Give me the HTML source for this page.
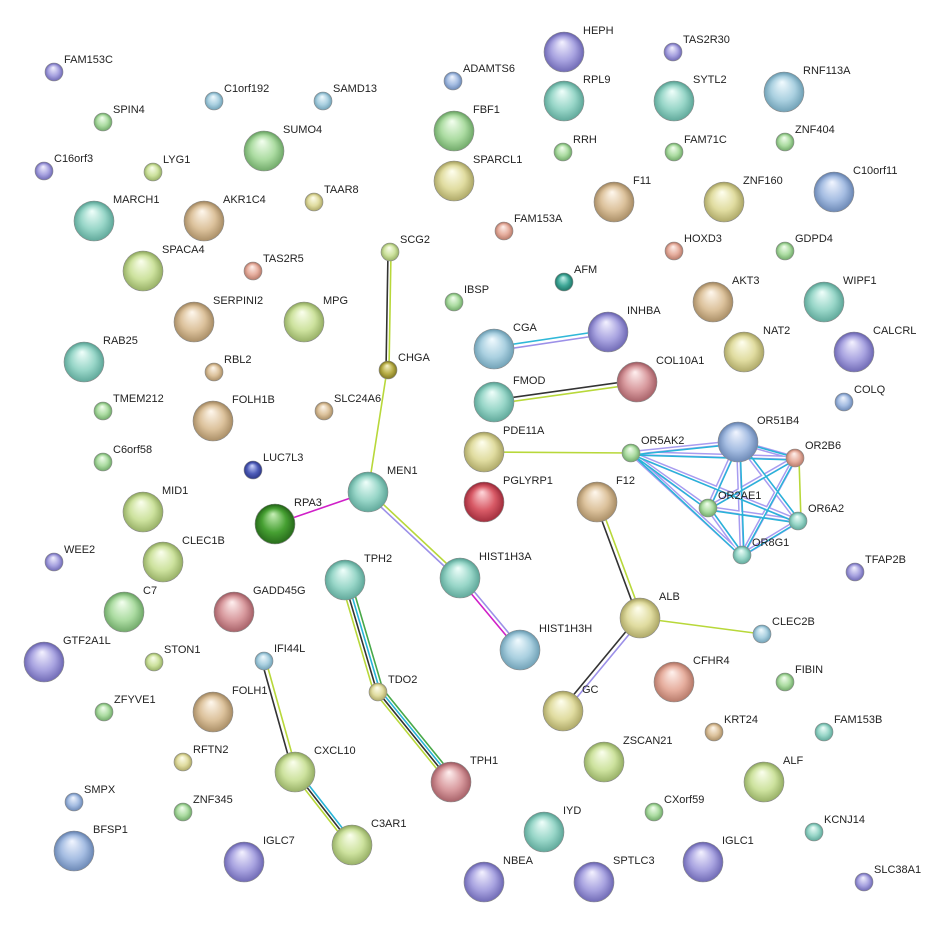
<!DOCTYPE html>
<html><head><meta charset="utf-8"><style>
html,body{margin:0;padding:0;background:#fff;}
svg{display:block}
text{font-family:"Liberation Sans",Arial,sans-serif;font-size:11px;fill:#222;}
</style></head><body>
<svg width="935" height="927" viewBox="0 0 935 927" xmlns="http://www.w3.org/2000/svg">
<defs>
<radialGradient id="pu" cx="50%" cy="55%" r="55%" fx="45%" fy="25%"><stop offset="0" stop-color="#f4f2ff"/><stop offset="0.55" stop-color="#a8a3e0"/><stop offset="1" stop-color="#5e58a8"/></radialGradient>
<radialGradient id="bl" cx="50%" cy="55%" r="55%" fx="45%" fy="25%"><stop offset="0" stop-color="#f2f6ff"/><stop offset="0.55" stop-color="#a5bde2"/><stop offset="1" stop-color="#5a78a8"/></radialGradient>
<radialGradient id="lb" cx="50%" cy="55%" r="55%" fx="45%" fy="25%"><stop offset="0" stop-color="#f2fbff"/><stop offset="0.55" stop-color="#aad0e0"/><stop offset="1" stop-color="#5f93aa"/></radialGradient>
<radialGradient id="te" cx="50%" cy="55%" r="55%" fx="45%" fy="25%"><stop offset="0" stop-color="#f0fffb"/><stop offset="0.55" stop-color="#98d6c8"/><stop offset="1" stop-color="#4e9a8c"/></radialGradient>
<radialGradient id="gr" cx="50%" cy="55%" r="55%" fx="45%" fy="25%"><stop offset="0" stop-color="#f4fff0"/><stop offset="0.55" stop-color="#acdca2"/><stop offset="1" stop-color="#5e9a58"/></radialGradient>
<radialGradient id="yg" cx="50%" cy="55%" r="55%" fx="45%" fy="25%"><stop offset="0" stop-color="#fbffee"/><stop offset="0.55" stop-color="#cde29e"/><stop offset="1" stop-color="#86a054"/></radialGradient>
<radialGradient id="ye" cx="50%" cy="55%" r="55%" fx="45%" fy="25%"><stop offset="0" stop-color="#ffffef"/><stop offset="0.55" stop-color="#e0dca0"/><stop offset="1" stop-color="#9e9856"/></radialGradient>
<radialGradient id="ta" cx="50%" cy="55%" r="55%" fx="45%" fy="25%"><stop offset="0" stop-color="#fff8ee"/><stop offset="0.55" stop-color="#dcc29c"/><stop offset="1" stop-color="#9a7e56"/></radialGradient>
<radialGradient id="sa" cx="50%" cy="55%" r="55%" fx="45%" fy="25%"><stop offset="0" stop-color="#fff2ee"/><stop offset="0.55" stop-color="#e6ae9e"/><stop offset="1" stop-color="#a86a5a"/></radialGradient>
<radialGradient id="re" cx="50%" cy="55%" r="55%" fx="45%" fy="25%"><stop offset="0" stop-color="#ffd8dc"/><stop offset="0.55" stop-color="#d85a66"/><stop offset="1" stop-color="#902030"/></radialGradient>
<radialGradient id="cr" cx="50%" cy="55%" r="55%" fx="45%" fy="25%"><stop offset="0" stop-color="#fff0f0"/><stop offset="0.55" stop-color="#d89a9e"/><stop offset="1" stop-color="#985058"/></radialGradient>
<radialGradient id="dg" cx="50%" cy="55%" r="55%" fx="45%" fy="25%"><stop offset="0" stop-color="#c8f0b8"/><stop offset="0.55" stop-color="#46a032"/><stop offset="1" stop-color="#1e5a14"/></radialGradient>
<radialGradient id="db" cx="50%" cy="55%" r="55%" fx="45%" fy="25%"><stop offset="0" stop-color="#d0d8ff"/><stop offset="0.55" stop-color="#4e5cb8"/><stop offset="1" stop-color="#222c78"/></radialGradient>
<radialGradient id="ol" cx="50%" cy="55%" r="55%" fx="45%" fy="25%"><stop offset="0" stop-color="#f8f4c8"/><stop offset="0.55" stop-color="#b8ae48"/><stop offset="1" stop-color="#706818"/></radialGradient>
<radialGradient id="dt" cx="50%" cy="55%" r="55%" fx="45%" fy="25%"><stop offset="0" stop-color="#c8f4ee"/><stop offset="0.55" stop-color="#40a898"/><stop offset="1" stop-color="#166658"/></radialGradient>
</defs>

<g fill="none" stroke-linecap="round">
<!-- SCG2-CHGA -->
<line x1="388" y1="252" x2="386" y2="370" stroke="#333" stroke-width="1.6"/>
<line x1="391" y1="252" x2="389" y2="370" stroke="#b8d83a" stroke-width="1.6"/>
<!-- CHGA-MEN1 -->
<line x1="387" y1="370" x2="368" y2="492" stroke="#b8d83a" stroke-width="1.6"/>
<!-- MEN1-RPA3 -->
<line x1="368" y1="492" x2="275" y2="524" stroke="#d020c8" stroke-width="1.6"/>
<!-- MEN1-HIST1H3A -->
<line x1="369" y1="491" x2="461" y2="577" stroke="#b8d83a" stroke-width="1.6"/>
<line x1="367" y1="494" x2="459" y2="580" stroke="#9c90e8" stroke-width="1.6"/>
<!-- HIST1H3A-HIST1H3H -->
<line x1="462" y1="577" x2="522" y2="649" stroke="#9c90e8" stroke-width="1.6"/>
<line x1="459" y1="579" x2="519" y2="651" stroke="#d020c8" stroke-width="1.6"/>
<!-- CGA-INHBA -->
<line x1="494" y1="347" x2="608" y2="330" stroke="#30b8d8" stroke-width="1.6"/>
<line x1="494" y1="351" x2="608" y2="334" stroke="#9c90e8" stroke-width="1.6"/>
<!-- FMOD-COL10A1 -->
<line x1="494" y1="400" x2="637" y2="380" stroke="#333" stroke-width="1.6"/>
<line x1="494" y1="404" x2="637" y2="384" stroke="#b8d83a" stroke-width="1.6"/>
<!-- PDE11A-OR5AK2 -->
<line x1="484" y1="452" x2="631" y2="453" stroke="#b8d83a" stroke-width="1.6"/>
<!-- OR cluster -->
<g>
<path d="M631 453L738 442M631 453L795 458M631 453L708 508M631 453L798 521M631 453L742 555M738 442L795 458M738 442L708 508M738 442L798 521M738 442L742 555M795 458L708 508M795 458L742 555M708 508L798 521M708 508L742 555M798 521L742 555" stroke="#a89cf0" stroke-width="4.5"/>
<path d="M631 453L738 442M631 453L795 458M631 453L708 508M631 453L798 521M631 453L742 555M738 442L795 458M738 442L708 508M738 442L798 521M738 442L742 555M795 458L708 508M795 458L742 555M708 508L798 521M708 508L742 555M798 521L742 555" stroke="#fff" stroke-width="1.5"/>
<path d="M631 455L738 444M631 455L795 460M633 455L708 510M633 455L798 523M633 455L742 557M740 442L797 458M740 442L710 508M740 442L800 521M740 442L744 555M795 460L708 510M795 460L742 557M708 510L798 523M710 508L744 555M800 521L744 555" stroke="#28b4d8" stroke-width="1.5"/>
</g>
<!-- OR2B6-OR6A2 yellow -->
<line x1="799" y1="459" x2="801" y2="521" stroke="#b8d83a" stroke-width="1.6"/>
<!-- F12-ALB -->
<line x1="595" y1="502" x2="638" y2="618" stroke="#333" stroke-width="1.6"/>
<line x1="599" y1="501" x2="642" y2="617" stroke="#b8d83a" stroke-width="1.6"/>
<!-- ALB-CLEC2B -->
<line x1="640" y1="618" x2="762" y2="634" stroke="#b8d83a" stroke-width="1.6"/>
<!-- ALB-GC -->
<line x1="638" y1="617" x2="561" y2="710" stroke="#333" stroke-width="1.6"/>
<line x1="641" y1="620" x2="564" y2="713" stroke="#9c90e8" stroke-width="1.6"/>
<!-- TPH2-TDO2 -->
<line x1="341" y1="581" x2="374" y2="693" stroke="#b8d83a" stroke-width="1.6"/>
<line x1="344" y1="580" x2="377" y2="692" stroke="#333" stroke-width="1.6"/>
<line x1="347" y1="579" x2="380" y2="691" stroke="#28b4d8" stroke-width="1.6"/>
<line x1="350" y1="578" x2="383" y2="690" stroke="#48a848" stroke-width="1.6"/>
<!-- TDO2-TPH1 -->
<line x1="376" y1="694" x2="449" y2="784" stroke="#b8d83a" stroke-width="1.6"/>
<line x1="378" y1="692" x2="451" y2="782" stroke="#333" stroke-width="1.6"/>
<line x1="380" y1="690" x2="453" y2="780" stroke="#28b4d8" stroke-width="1.6"/>
<line x1="382" y1="688" x2="455" y2="778" stroke="#48a848" stroke-width="1.6"/>
<!-- IFI44L-CXCL10 -->
<line x1="262" y1="662" x2="293" y2="773" stroke="#333" stroke-width="1.6"/>
<line x1="266" y1="661" x2="297" y2="772" stroke="#b8d83a" stroke-width="1.6"/>
<!-- CXCL10-C3AR1 -->
<line x1="293" y1="774" x2="350" y2="847" stroke="#b8d83a" stroke-width="1.6"/>
<line x1="295" y1="772" x2="352" y2="845" stroke="#333" stroke-width="1.6"/>
<line x1="297" y1="770" x2="354" y2="843" stroke="#28b4d8" stroke-width="1.6"/>
</g>

<g stroke="#8a8a8a" stroke-width="0.6">
<!-- big r=20, small r=9 -->
<circle cx="54" cy="72" r="9" fill="url(#pu)"/>
<circle cx="103" cy="122" r="9" fill="url(#gr)"/>
<circle cx="214" cy="101" r="9" fill="url(#lb)"/>
<circle cx="323" cy="101" r="9" fill="url(#lb)"/>
<circle cx="453" cy="81" r="9" fill="url(#bl)"/>
<circle cx="564" cy="52" r="20" fill="url(#pu)"/>
<circle cx="673" cy="52" r="9" fill="url(#pu)"/>
<circle cx="564" cy="101" r="20" fill="url(#te)"/>
<circle cx="674" cy="101" r="20" fill="url(#te)"/>
<circle cx="784" cy="92" r="20" fill="url(#lb)"/>
<circle cx="44" cy="171" r="9" fill="url(#pu)"/>
<circle cx="153" cy="172" r="9" fill="url(#yg)"/>
<circle cx="264" cy="151" r="20" fill="url(#gr)"/>
<circle cx="454" cy="131" r="20" fill="url(#gr)"/>
<circle cx="563" cy="152" r="9" fill="url(#gr)"/>
<circle cx="674" cy="152" r="9" fill="url(#gr)"/>
<circle cx="785" cy="142" r="9" fill="url(#gr)"/>
<circle cx="834" cy="192" r="20" fill="url(#bl)"/>
<circle cx="94" cy="221" r="20" fill="url(#te)"/>
<circle cx="204" cy="221" r="20" fill="url(#ta)"/>
<circle cx="314" cy="202" r="9" fill="url(#ye)"/>
<circle cx="454" cy="181" r="20" fill="url(#ye)"/>
<circle cx="614" cy="202" r="20" fill="url(#ta)"/>
<circle cx="724" cy="202" r="20" fill="url(#ye)"/>
<circle cx="504" cy="231" r="9" fill="url(#sa)"/>
<circle cx="674" cy="251" r="9" fill="url(#sa)"/>
<circle cx="785" cy="251" r="9" fill="url(#gr)"/>
<circle cx="390" cy="252" r="9" fill="url(#yg)"/>
<circle cx="143" cy="271" r="20" fill="url(#yg)"/>
<circle cx="253" cy="271" r="9" fill="url(#sa)"/>
<circle cx="564" cy="282" r="9" fill="url(#dt)"/>
<circle cx="454" cy="302" r="9" fill="url(#gr)"/>
<circle cx="713" cy="302" r="20" fill="url(#ta)"/>
<circle cx="824" cy="302" r="20" fill="url(#te)"/>
<circle cx="194" cy="322" r="20" fill="url(#ta)"/>
<circle cx="304" cy="322" r="20" fill="url(#yg)"/>
<circle cx="608" cy="332" r="20" fill="url(#pu)"/>
<circle cx="494" cy="349" r="20" fill="url(#lb)"/>
<circle cx="744" cy="352" r="20" fill="url(#ye)"/>
<circle cx="854" cy="352" r="20" fill="url(#pu)"/>
<circle cx="84" cy="362" r="20" fill="url(#te)"/>
<circle cx="214" cy="372" r="9" fill="url(#ta)"/>
<circle cx="388" cy="370" r="9" fill="url(#ol)"/>
<circle cx="637" cy="382" r="20" fill="url(#cr)"/>
<circle cx="494" cy="402" r="20" fill="url(#te)"/>
<circle cx="844" cy="402" r="9" fill="url(#bl)"/>
<circle cx="103" cy="411" r="9" fill="url(#gr)"/>
<circle cx="213" cy="421" r="20" fill="url(#ta)"/>
<circle cx="324" cy="411" r="9" fill="url(#ta)"/>
<circle cx="484" cy="452" r="20" fill="url(#ye)"/>
<circle cx="631" cy="453" r="9" fill="url(#gr)"/>
<circle cx="738" cy="442" r="20" fill="url(#bl)"/>
<circle cx="795" cy="458" r="9" fill="url(#sa)"/>
<circle cx="103" cy="462" r="9" fill="url(#gr)"/>
<circle cx="253" cy="470" r="9" fill="url(#db)"/>
<circle cx="368" cy="492" r="20" fill="url(#te)"/>
<circle cx="484" cy="502" r="20" fill="url(#re)"/>
<circle cx="597" cy="502" r="20" fill="url(#ta)"/>
<circle cx="708" cy="508" r="9" fill="url(#gr)"/>
<circle cx="798" cy="521" r="9" fill="url(#te)"/>
<circle cx="143" cy="512" r="20" fill="url(#yg)"/>
<circle cx="275" cy="524" r="20" fill="url(#dg)"/>
<circle cx="742" cy="555" r="9" fill="url(#te)"/>
<circle cx="54" cy="562" r="9" fill="url(#pu)"/>
<circle cx="163" cy="562" r="20" fill="url(#yg)"/>
<circle cx="345" cy="580" r="20" fill="url(#te)"/>
<circle cx="460" cy="578" r="20" fill="url(#te)"/>
<circle cx="855" cy="572" r="9" fill="url(#pu)"/>
<circle cx="124" cy="612" r="20" fill="url(#gr)"/>
<circle cx="234" cy="612" r="20" fill="url(#cr)"/>
<circle cx="640" cy="618" r="20" fill="url(#ye)"/>
<circle cx="762" cy="634" r="9" fill="url(#lb)"/>
<circle cx="44" cy="662" r="20" fill="url(#pu)"/>
<circle cx="154" cy="662" r="9" fill="url(#yg)"/>
<circle cx="264" cy="661" r="9" fill="url(#lb)"/>
<circle cx="520" cy="650" r="20" fill="url(#lb)"/>
<circle cx="674" cy="682" r="20" fill="url(#sa)"/>
<circle cx="785" cy="682" r="9" fill="url(#gr)"/>
<circle cx="378" cy="692" r="9" fill="url(#ye)"/>
<circle cx="104" cy="712" r="9" fill="url(#gr)"/>
<circle cx="213" cy="712" r="20" fill="url(#ta)"/>
<circle cx="563" cy="711" r="20" fill="url(#ye)"/>
<circle cx="714" cy="732" r="9" fill="url(#ta)"/>
<circle cx="824" cy="732" r="9" fill="url(#te)"/>
<circle cx="183" cy="762" r="9" fill="url(#ye)"/>
<circle cx="295" cy="772" r="20" fill="url(#yg)"/>
<circle cx="451" cy="782" r="20" fill="url(#cr)"/>
<circle cx="604" cy="762" r="20" fill="url(#yg)"/>
<circle cx="764" cy="782" r="20" fill="url(#yg)"/>
<circle cx="74" cy="802" r="9" fill="url(#bl)"/>
<circle cx="183" cy="812" r="9" fill="url(#gr)"/>
<circle cx="654" cy="812" r="9" fill="url(#gr)"/>
<circle cx="352" cy="845" r="20" fill="url(#yg)"/>
<circle cx="544" cy="832" r="20" fill="url(#te)"/>
<circle cx="814" cy="832" r="9" fill="url(#te)"/>
<circle cx="74" cy="851" r="20" fill="url(#bl)"/>
<circle cx="244" cy="862" r="20" fill="url(#pu)"/>
<circle cx="703" cy="862" r="20" fill="url(#pu)"/>
<circle cx="484" cy="882" r="20" fill="url(#pu)"/>
<circle cx="594" cy="882" r="20" fill="url(#pu)"/>
<circle cx="864" cy="882" r="9" fill="url(#pu)"/>
</g>

<g>
<text x="64" y="63">FAM153C</text>
<text x="113" y="113">SPIN4</text>
<text x="224" y="92">C1orf192</text>
<text x="333" y="92">SAMD13</text>
<text x="463" y="72">ADAMTS6</text>
<text x="583" y="34">HEPH</text>
<text x="683" y="43">TAS2R30</text>
<text x="583" y="83">RPL9</text>
<text x="693" y="83">SYTL2</text>
<text x="803" y="74">RNF113A</text>
<text x="54" y="162">C16orf3</text>
<text x="163" y="163">LYG1</text>
<text x="283" y="133">SUMO4</text>
<text x="473" y="113">FBF1</text>
<text x="573" y="143">RRH</text>
<text x="684" y="143">FAM71C</text>
<text x="795" y="133">ZNF404</text>
<text x="853" y="174">C10orf11</text>
<text x="113" y="203">MARCH1</text>
<text x="223" y="203">AKR1C4</text>
<text x="324" y="193">TAAR8</text>
<text x="473" y="163">SPARCL1</text>
<text x="633" y="184">F11</text>
<text x="743" y="184">ZNF160</text>
<text x="514" y="222">FAM153A</text>
<text x="684" y="242">HOXD3</text>
<text x="795" y="242">GDPD4</text>
<text x="400" y="243">SCG2</text>
<text x="162" y="253">SPACA4</text>
<text x="263" y="262">TAS2R5</text>
<text x="574" y="273">AFM</text>
<text x="464" y="293">IBSP</text>
<text x="732" y="284">AKT3</text>
<text x="843" y="284">WIPF1</text>
<text x="213" y="304">SERPINI2</text>
<text x="323" y="304">MPG</text>
<text x="627" y="314">INHBA</text>
<text x="513" y="331">CGA</text>
<text x="763" y="334">NAT2</text>
<text x="873" y="334">CALCRL</text>
<text x="103" y="344">RAB25</text>
<text x="224" y="363">RBL2</text>
<text x="398" y="361">CHGA</text>
<text x="656" y="364">COL10A1</text>
<text x="513" y="384">FMOD</text>
<text x="854" y="393">COLQ</text>
<text x="113" y="402">TMEM212</text>
<text x="232" y="403">FOLH1B</text>
<text x="334" y="402">SLC24A6</text>
<text x="503" y="434">PDE11A</text>
<text x="641" y="444">OR5AK2</text>
<text x="757" y="424">OR51B4</text>
<text x="805" y="449">OR2B6</text>
<text x="113" y="453">C6orf58</text>
<text x="263" y="461">LUC7L3</text>
<text x="387" y="474">MEN1</text>
<text x="503" y="484">PGLYRP1</text>
<text x="616" y="484">F12</text>
<text x="718" y="499">OR2AE1</text>
<text x="808" y="512">OR6A2</text>
<text x="162" y="494">MID1</text>
<text x="294" y="506">RPA3</text>
<text x="752" y="546">OR8G1</text>
<text x="64" y="553">WEE2</text>
<text x="182" y="544">CLEC1B</text>
<text x="364" y="562">TPH2</text>
<text x="479" y="560">HIST1H3A</text>
<text x="865" y="563">TFAP2B</text>
<text x="143" y="594">C7</text>
<text x="253" y="594">GADD45G</text>
<text x="659" y="600">ALB</text>
<text x="772" y="625">CLEC2B</text>
<text x="63" y="644">GTF2A1L</text>
<text x="164" y="653">STON1</text>
<text x="274" y="652">IFI44L</text>
<text x="539" y="632">HIST1H3H</text>
<text x="693" y="664">CFHR4</text>
<text x="795" y="673">FIBIN</text>
<text x="388" y="683">TDO2</text>
<text x="114" y="703">ZFYVE1</text>
<text x="232" y="694">FOLH1</text>
<text x="582" y="693">GC</text>
<text x="724" y="723">KRT24</text>
<text x="834" y="723">FAM153B</text>
<text x="193" y="753">RFTN2</text>
<text x="314" y="754">CXCL10</text>
<text x="470" y="764">TPH1</text>
<text x="623" y="744">ZSCAN21</text>
<text x="783" y="764">ALF</text>
<text x="84" y="793">SMPX</text>
<text x="193" y="803">ZNF345</text>
<text x="664" y="803">CXorf59</text>
<text x="371" y="827">C3AR1</text>
<text x="563" y="814">IYD</text>
<text x="824" y="823">KCNJ14</text>
<text x="93" y="833">BFSP1</text>
<text x="263" y="844">IGLC7</text>
<text x="722" y="844">IGLC1</text>
<text x="503" y="864">NBEA</text>
<text x="613" y="864">SPTLC3</text>
<text x="874" y="873">SLC38A1</text>
</g>
</svg>
</body></html>
